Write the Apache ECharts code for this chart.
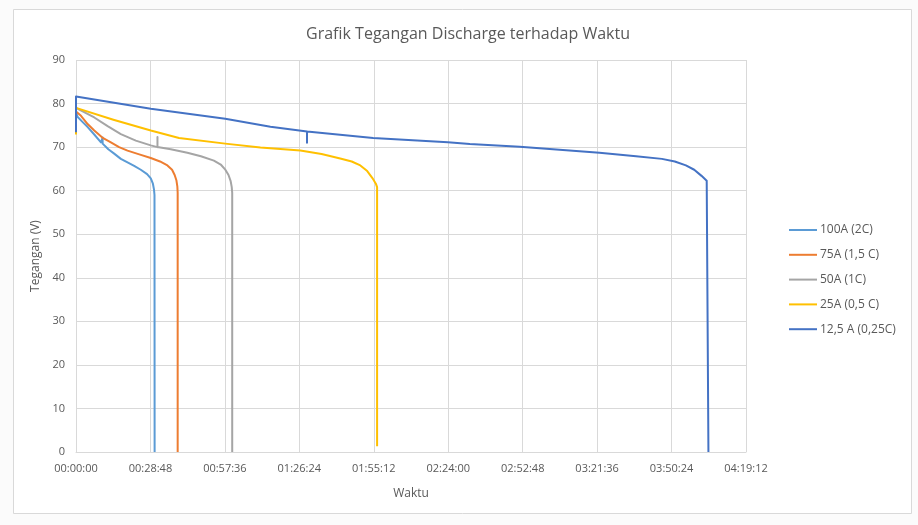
<!DOCTYPE html>
<html>
<head>
<meta charset="utf-8">
<script src="https://cdn.jsdelivr.net/npm/echarts@6/dist/echarts.min.js"></script>
<style>
  html, body { margin: 0; padding: 0; background: #fbfbfb; }
  #chart { width: 918px; height: 525px; }
</style>
</head>
<body>
<div id="chart"></div>
<script>
// Discharge voltage vs. time, time in seconds from start of discharge.
const seriesNames = ['100A (2C)', '75A (1,5 C)', '50A (1C)', '25A (0,5 C)', '12,5 A (0,25C)'];
const seriesColors = ['#5B9BD5', '#ED7D31', '#A5A5A5', '#FFC000', '#4472C4'];

// [seconds, volts]
const data100A = [
  [0, 78.0], [39, 76.9], [150, 75.8], [271, 74.6], [424, 72.9], [579, 71.1],
  [618, 70.8], [618, 72.2], [618, 70.8],
  [750, 69.5], [886, 68.5], [1041, 67.3], [1196, 66.5], [1350, 65.7], [1504, 64.8], [1650, 63.8],
  [1736, 62.8], [1785, 61.6], [1810, 60.3], [1822, 59.0], [1825, 0]
];
const data75A = [
  [0, 78.2], [116, 77.2], [270, 75.3], [424, 73.8], [610, 72.2], [810, 71.1], [1000, 70.0], [1196, 69.2],
  [1450, 68.4], [1736, 67.5], [1950, 66.7], [2122, 65.8], [2230, 64.8], [2290, 63.6], [2330, 62.4],
  [2352, 61.0], [2360, 59.5], [2360, 0]
];
const data50A = [
  [0, 79.0], [200, 78.0], [424, 76.8], [734, 74.8], [1041, 73.0], [1388, 71.5],
  [1736, 70.4], [1891, 70.0], [1891, 72.3], [1891, 70.0],
  [2200, 69.5], [2585, 68.7], [2900, 67.9], [3201, 66.9], [3360, 66.0], [3460, 64.9], [3540, 63.6],
  [3590, 62.2], [3615, 60.8], [3626, 59.5], [3626, 0]
];
const data25A = [
  [0, 72.9], [0, 79.0], [868, 76.3], [1736, 73.8], [2391, 72.1],
  [3465, 70.8], [4281, 69.9], [5207, 69.2], [5700, 68.4], [6133, 67.4], [6400, 66.7],
  [6600, 65.8], [6760, 64.5], [6880, 62.9], [6960, 61.6], [6989, 60.8], [6989, 1.3]
];
const data12A = [
  [0, 73.4], [0, 81.6], [1736, 78.8], [3465, 76.5], [4513, 74.7],
  [5362, 73.6], [5362, 71.0], [5362, 73.6],
  [6897, 72.1], [8632, 71.1], [9142, 70.7], [10299, 70.1], [12150, 68.7],
  [13000, 67.9], [13600, 67.3], [13900, 66.7], [14157, 65.8], [14350, 64.8], [14520, 63.4],
  [14640, 62.3], [14680, 61.9], [14680, 0]
];
const seriesData = [data100A, data75A, data50A, data25A, data12A];

const xMax = 15552;      // 04:19:12
const xStep = 1728;      // 00:28:48
const yMax = 90;
const yStep = 10;

function hms(sec) {
  const s = Math.round(sec);
  const h = Math.floor(s / 3600);
  const m = Math.floor((s % 3600) / 60);
  const r = s % 60;
  const p = n => String(n).padStart(2, '0');
  return p(h) + ':' + p(m) + ':' + p(r);
}

const textColor = '#595959';
const gridColor = '#d9d9d9';
const fontFamily = '"Open Sans", "Liberation Sans", sans-serif';

const chart = echarts.init(document.getElementById('chart'), null, { renderer: 'canvas' });
chart.setOption({
  animation: false,
  backgroundColor: '#fbfbfb',
  graphic: [{
    type: 'rect',
    z: -10,
    shape: { x: 13.5, y: 9.5, width: 898, height: 504 },
    style: { fill: '#ffffff', stroke: '#d9d9d9', lineWidth: 1 }
  }],
  title: {
    text: 'Grafik Tegangan Discharge terhadap Waktu',
    left: 463,
    top: 21,
    textAlign: 'center',
    textStyle: { fontFamily, fontSize: 16, fontWeight: 'normal', color: textColor }
  },
  grid: { left: 76, right: 172, top: 60, bottom: 73, containLabel: false },
  legend: {
    orient: 'vertical',
    left: 784,
    top: 218,
    icon: 'rect',
    itemWidth: 28,
    itemHeight: 2,
    itemGap: 10.8,
    data: seriesNames,
    textStyle: { fontFamily, fontSize: 12, color: textColor, lineHeight: 14, padding: [0, 0, 0, -2] }
  },
  xAxis: {
    type: 'value',
    min: 0,
    max: xMax,
    interval: xStep,
    name: 'Waktu',
    nameLocation: 'middle',
    nameGap: 36,
    nameTextStyle: { fontFamily, fontSize: 12, color: textColor },
    axisLine: { show: true, lineStyle: { color: gridColor } },
    axisTick: { show: false },
    axisLabel: { formatter: v => hms(v), fontFamily, fontSize: 11, color: textColor, margin: 11 },
    splitLine: { show: true, lineStyle: { color: gridColor, width: 1 } }
  },
  yAxis: {
    type: 'value',
    min: 0,
    max: yMax,
    interval: yStep,
    name: 'Tegangan (V)',
    nameLocation: 'middle',
    nameRotate: 90,
    nameGap: 32,
    nameTextStyle: { fontFamily, fontSize: 12, color: textColor },
    axisLine: { show: false },
    axisTick: { show: false },
    axisLabel: { fontFamily, fontSize: 11, color: textColor, margin: 11 },
    splitLine: { show: true, lineStyle: { color: gridColor, width: 1 } }
  },
  series: seriesNames.map((name, i) => ({
    name,
    type: 'line',
    data: seriesData[i],
    symbol: 'none',
    color: seriesColors[i],
    lineStyle: { width: 2, color: seriesColors[i], join: 'round' },
    z: 2 + i
  }))
});
</script>
</body>
</html>
